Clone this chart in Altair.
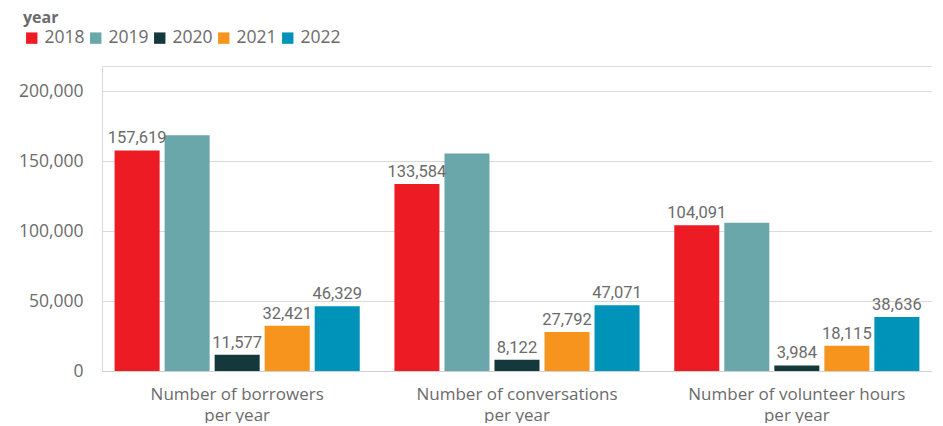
import altair as alt
import pandas as pd

categories = [
    "Number of borrowers per year",
    "Number of conversations per year",
    "Number of volunteer hours per year",
]
years = ["2018", "2019", "2020", "2021", "2022"]
values_2018 = [157619, 133584, 104091]
values_2019 = [168500, 155500, 106000]
values_2020 = [11577, 8122, 3984]
values_2021 = [32421, 27792, 18115]
values_2022 = [46329, 47071, 38636]
show_label = {"2018": True, "2019": False, "2020": True, "2021": True, "2022": True}
colors = ["#ED1C24", "#6AA7AA", "#15383D", "#F7941D", "#0093B9"]

series = [values_2018, values_2019, values_2020, values_2021, values_2022]
rows = []
for y, vals in zip(years, series):
    for c, v in zip(categories, vals):
        rows.append({"category": c, "year": y, "value": v, "show": show_label[y]})
df = pd.DataFrame(rows)

FONT = "Open Sans"
NARROW = "Liberation Sans Narrow, Roboto, Open Sans"
GRAY = "#6b6b6b"

base = alt.Chart(df).encode(
    x=alt.X(
        "category:N",
        sort=categories,
        title=None,
        scale=alt.Scale(paddingInner=0.124, paddingOuter=0.045),
        axis=alt.Axis(
            labelAngle=0,
            labelExpr="split(replace(datum.value, ' per year', '|per year'), '|')",
            labelFontSize=17,
            labelColor=GRAY,
            labelFont=FONT,
            labelPadding=15,
            labelLineHeight=21,
            labelLimit=400,
            ticks=False,
            domain=True,
            domainColor="#d0d0d0",
        ),
    ),
    xOffset=alt.XOffset("year:N", sort=years, scale=alt.Scale(paddingInner=0.1)),
    y=alt.Y(
        "value:Q",
        title=None,
        scale=alt.Scale(domain=[0, 218000], nice=False),
        axis=alt.Axis(
            values=[0, 50000, 100000, 150000, 200000],
            format=",.0f",
            labelFontSize=17.5,
            labelColor=GRAY,
            labelFont=FONT,
            labelPadding=19,
            ticks=False,
            domain=True,
            domainColor="#d9d9d9",
            gridColor="#d9d9d9",
        ),
    ),
)

bars = base.mark_bar().encode(
    color=alt.Color(
        "year:N",
        sort=years,
        scale=alt.Scale(domain=years, range=colors),
        legend=alt.Legend(
            title="year",
            orient="none",
            legendX=-79,
            legendY=-56,
            direction="horizontal",
            symbolType="square",
            symbolSize=130,
            symbolStrokeWidth=0,
            titleFontSize=16,
            titleFontWeight="bold",
            titleColor=GRAY,
            titleFont=FONT,
            labelFontSize=17.5,
            labelColor=GRAY,
            labelFont=FONT,
            labelOffset=4,
            columnPadding=2,
            titlePadding=3,
        ),
    )
)

labels = base.transform_filter("datum.show").mark_text(
    baseline="bottom", dy=-4, fontSize=16.5, color=GRAY, font=NARROW
).encode(text=alt.Text("value:Q", format=",.0f"))

chart = (
    alt.layer(bars, labels)
    .properties(width=830, height=305, padding={"left": 10, "top": 2, "right": 0, "bottom": 0})
    .configure_view(stroke=None)
    .configure(background="white")
)

chart.save("out.html", embed_options={"renderer": "svg", "actions": False})
